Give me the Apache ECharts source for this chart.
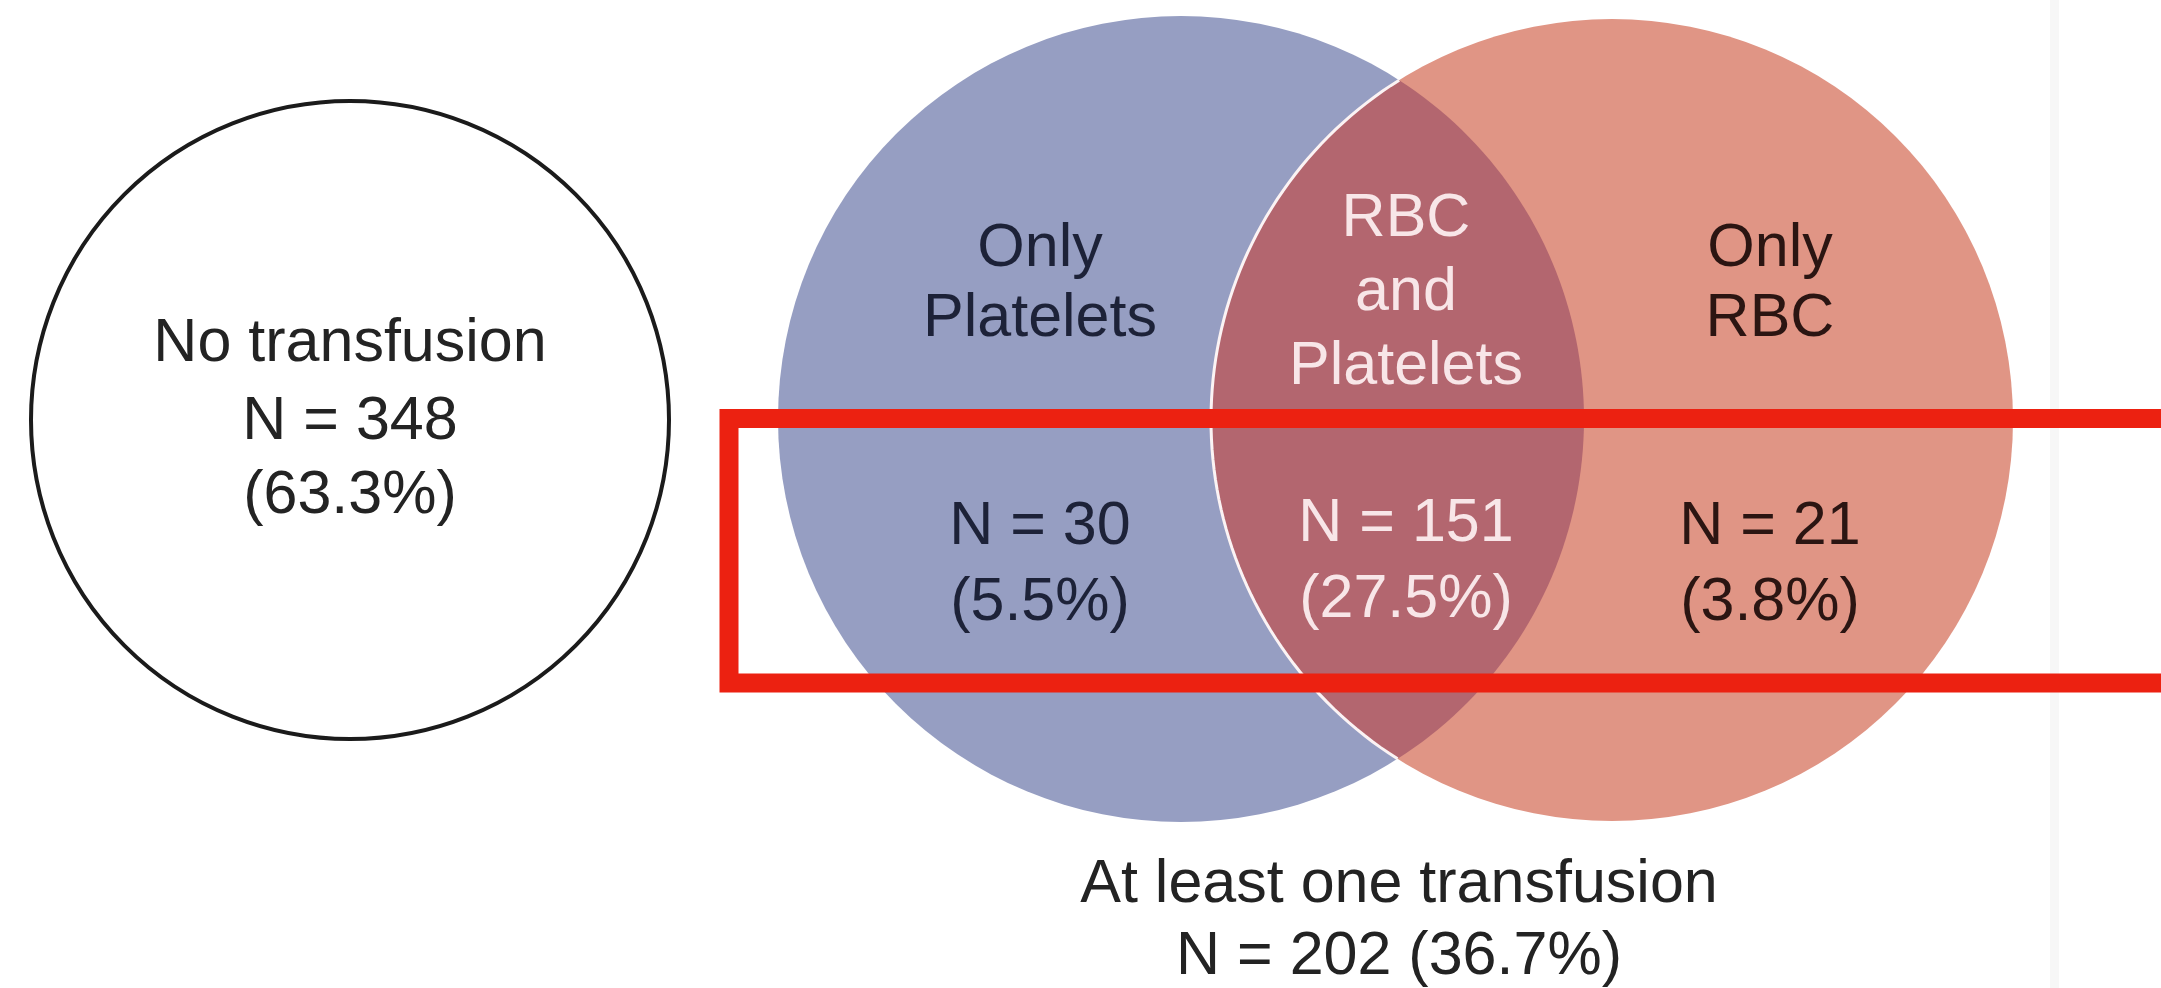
<!DOCTYPE html>
<html>
<head>
<meta charset="utf-8">
<script src="https://cdn.jsdelivr.net/npm/echarts@6/dist/echarts.min.js"></script>
<style>
html,body{margin:0;padding:0;background:#ffffff;}
#chart{width:2161px;height:988px;}
</style>
</head>
<body>
<div id="chart"></div>
<script>
// ---------------- DATA ----------------
const regionKeys = ['none', 'onlyPlatelets', 'both', 'onlyRBC'];
const regionTitles = [['No transfusion'], ['Only', 'Platelets'], ['RBC', 'and', 'Platelets'], ['Only', 'RBC']];
const regionCounts = [348, 30, 151, 21];
const regionPercents = [63.3, 5.5, 27.5, 3.8];
const transfusedTitle = 'At least one transfusion';
const transfusedCount = 202;
const transfusedPercent = 36.7;

// ---------------- LAYOUT (diagram units) ----------------
const W = 2161, H = 988;
const circleNone = { cx: 350, cy: 420, r: 319 };
const circlePlatelets = { cx: 1181, cy: 419, r: 403 };
const circleRBC = { cx: 1612, cy: 420, r: 401 };
const labelPos = {
  none:          { x: 350,  titleY: 344, countY: 422, titleLH: 72, countLH: 74 },
  onlyPlatelets: { x: 1040, titleY: 249, countY: 527, titleLH: 70, countLH: 76 },
  both:          { x: 1406, titleY: 219, countY: 524, titleLH: 74, countLH: 76 },
  onlyRBC:       { x: 1770, titleY: 249, countY: 527, titleLH: 70, countLH: 76 }
};
const captionPos = { x: 1399, y: 885, lh: 72 };
const drawOrder = [0, 1, 3, 2];

// ---------------- STYLE ----------------
const FONT = '61px "Liberation Sans", Arial, Helvetica, sans-serif';
const colors = {
  none: { fill: '#ffffff', stroke: '#1b1b1b', text: '#232323' },
  onlyPlatelets: { fill: '#969ec2', text: '#1d2238' },
  both: { fill: '#b3666f', text: '#f8e6e8' },
  onlyRBC: { fill: '#e09585', text: '#2b1512' },
  caption: '#232323'
};

function fmtCount(n) { return 'N = ' + n; }
function fmtPct(p) { return '(' + p.toFixed(1) + '%)'; }

function lensArcs() {
  const B = circlePlatelets, R = circleRBC;
  const dx = R.cx - B.cx, dy = R.cy - B.cy;
  const d = Math.hypot(dx, dy);
  const a = (B.r * B.r - R.r * R.r + d * d) / (2 * d);
  const h = Math.sqrt(B.r * B.r - a * a);
  const ux = dx / d, uy = dy / d;
  const mx = B.cx + a * ux, my = B.cy + a * uy;
  const top = [mx + h * uy, my - h * ux];
  const bot = [mx - h * uy, my + h * ux];
  const N = 80;
  let t1 = Math.atan2(top[1] - R.cy, top[0] - R.cx);
  let t2 = Math.atan2(bot[1] - R.cy, bot[0] - R.cx);
  if (t1 < 0) t1 += 2 * Math.PI;
  const left = [];
  for (let k = 0; k <= N; k++) {
    const t = t1 + (t2 - t1) * k / N;
    left.push([R.cx + R.r * Math.cos(t), R.cy + R.r * Math.sin(t)]);
  }
  const s1 = Math.atan2(bot[1] - B.cy, bot[0] - B.cx);
  const s2 = Math.atan2(top[1] - B.cy, top[0] - B.cx);
  const right = [];
  for (let k = 0; k <= N; k++) {
    const s = s1 + (s2 - s1) * k / N;
    right.push([B.cx + B.r * Math.cos(s), B.cy + B.r * Math.sin(s)]);
  }
  return { left, right };
}

function textEl(pt, str, fill) {
  return {
    type: 'text', x: pt[0], y: pt[1],
    style: { text: str, fill: fill, font: FONT, align: 'center', verticalAlign: 'middle',
             textAlign: 'center', textVerticalAlign: 'middle' },
    silent: true
  };
}

function renderItem(params, api) {
  const i = api.value(0);
  const key = regionKeys[i];
  const children = [];
  const C = (x, y) => api.coord([x, y]);
  const circ = (c, style) => {
    const p = C(c.cx, c.cy);
    const s = api.size([c.r, c.r]);
    return { type: 'circle', shape: { cx: p[0], cy: p[1], r: s[0] }, style: style };
  };
  if (key === 'none') {
    children.push(circ(circleNone, { fill: colors.none.fill, stroke: colors.none.stroke, lineWidth: 4 }));
  } else if (key === 'onlyPlatelets') {
    children.push(circ(circlePlatelets, { fill: colors.onlyPlatelets.fill }));
  } else if (key === 'onlyRBC') {
    children.push(circ(circleRBC, { fill: colors.onlyRBC.fill }));
  } else if (key === 'both') {
    const arcs = lensArcs();
    const poly = arcs.left.concat(arcs.right).map(p => C(p[0], p[1]));
    children.push({ type: 'polygon', shape: { points: poly }, style: { fill: colors.both.fill } });
    children.push({ type: 'polyline', shape: { points: arcs.left.map(p => C(p[0], p[1])) },
                    style: { stroke: '#fbf3f4', lineWidth: 3, fill: null } });
  }
  const lp = labelPos[key];
  const tc = colors[key].text;
  regionTitles[i].forEach((line, k) => {
    children.push(textEl(C(lp.x, lp.titleY + k * lp.titleLH), line, tc));
  });
  children.push(textEl(C(lp.x, lp.countY), fmtCount(regionCounts[i]), tc));
  children.push(textEl(C(lp.x, lp.countY + lp.countLH), fmtPct(regionPercents[i]), tc));
  if (key === 'both') {
    children.push(textEl(C(captionPos.x, captionPos.y), transfusedTitle, colors.caption));
    children.push(textEl(C(captionPos.x, captionPos.y + captionPos.lh),
      fmtCount(transfusedCount) + ' ' + fmtPct(transfusedPercent), colors.caption));
  }
  return { type: 'group', children: children };
}

const chart = echarts.init(document.getElementById('chart'), null, { renderer: 'canvas' });
chart.setOption({
  animation: false,
  backgroundColor: '#ffffff',
  grid: { left: 0, right: 0, top: 0, bottom: 0, containLabel: false },
  xAxis: { type: 'value', min: 0, max: W, show: false },
  yAxis: { type: 'value', min: 0, max: H, inverse: true, show: false },
  series: [{
    type: 'custom',
    clip: false,
    renderItem: renderItem,
    data: drawOrder.map(i => ({ name: regionKeys[i], value: [i, regionCounts[i], regionPercents[i]] }))
  }],
  graphic: [
    { type: 'rect', left: 2050, top: 0, shape: { width: 9, height: H }, style: { fill: '#f7f7f7' }, z: -1 },
    { type: 'rect', shape: { x: 729, y: 418.5, width: 1500, height: 264.5 },
      style: { fill: null, stroke: '#ec2111', lineWidth: 19 }, z: 100 }
  ]
});
</script>
</body>
</html>
